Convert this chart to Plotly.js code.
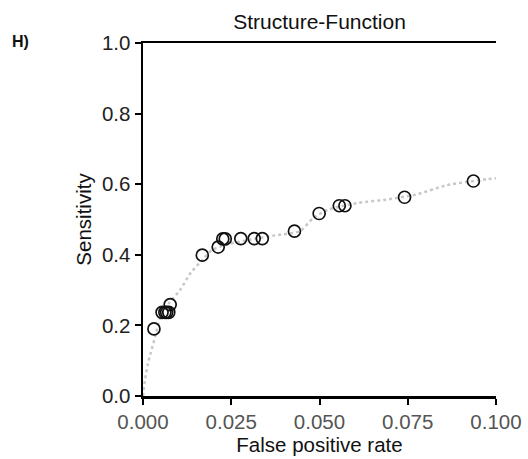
<!DOCTYPE html>
<html>
<head>
<meta charset="utf-8">
<script src="https://cdn.plot.ly/plotly-3.0.1.min.js"></script>
<style>html,body{margin:0;padding:0;background:#fff;}#chart{width:528px;height:459px;}</style>
</head>
<body>
<div id="chart"></div>
<script>
// Observed points (false positive rate, sensitivity)
const fpr = [0.0031, 0.0054, 0.0062, 0.0067, 0.0073, 0.0077, 0.0168, 0.0213, 0.0226, 0.0233, 0.0277, 0.0315, 0.0338, 0.0429, 0.0499, 0.0556, 0.0572, 0.0741, 0.0936];
const sens = [0.190, 0.237, 0.237, 0.237, 0.237, 0.259, 0.399, 0.422, 0.445, 0.445, 0.446, 0.446, 0.446, 0.467, 0.517, 0.539, 0.539, 0.563, 0.609];
// Fitted (dotted) curve
const fitX = [0, 0.0005, 0.0013, 0.0022, 0.0035, 0.0048, 0.0075, 0.0105, 0.0136, 0.0168, 0.0195, 0.024, 0.030, 0.0374, 0.0445, 0.0483, 0.0525, 0.061, 0.0695, 0.0775, 0.086, 0.0973, 0.1];
const fitY = [0, 0.041, 0.088, 0.123, 0.170, 0.220, 0.265, 0.300, 0.350, 0.385, 0.413, 0.430, 0.442, 0.455, 0.467, 0.505, 0.528, 0.547, 0.557, 0.571, 0.597, 0.614, 0.617];
const xTicks = [0, 0.025, 0.05, 0.075, 0.1];
const xTickText = ['0.000', '0.025', '0.050', '0.075', '0.100'];
const yTicks = [0, 0.2, 0.4, 0.6, 0.8, 1.0];
const yTickText = ['0.0', '0.2', '0.4', '0.6', '0.8', '1.0'];

const traces = [
  {x: fitX, y: fitY, mode: 'lines', line: {color: '#c8c8c8', width: 2.5, dash: 'dot', shape: 'spline', smoothing: 0.6}, hoverinfo: 'skip', showlegend: false, cliponaxis: false},
  {x: fpr, y: sens, mode: 'markers', marker: {symbol: 'circle-open', size: 12, color: '#111', line: {width: 1.7, color: '#111'}}, showlegend: false, cliponaxis: false}
];
const font = 'Liberation Sans, Arial, sans-serif';
const layout = {
  width: 528, height: 459,
  margin: {l: 143, r: 32, t: 43, b: 63},
  paper_bgcolor: '#fff', plot_bgcolor: '#fff',
  font: {family: font, color: '#111'},
  title: {text: 'Structure-Function', x: 0.5, xref: 'paper', xanchor: 'center', y: 18, yref: 'container', yanchor: 'middle', font: {family: font, size: 21, color: '#111'}},
  xaxis: {range: [0, 0.1], tickvals: xTicks, ticktext: xTickText, showgrid: false, zeroline: false,
    showline: true, linecolor: '#000', linewidth: 2.5, mirror: true, ticks: 'outside', ticklen: 6, tickwidth: 2, tickcolor: '#000',
    tickfont: {family: font, size: 20.5, color: '#555'},
    title: {text: 'False positive rate', standoff: 0, font: {family: font, size: 20.5, color: '#111'}}},
  yaxis: {range: [0, 1], tickvals: yTicks, ticktext: yTickText, showgrid: false, zeroline: false,
    showline: true, linecolor: '#000', linewidth: 2.5, ticks: 'outside', ticklen: 6, tickwidth: 2, tickcolor: '#000',
    tickfont: {family: font, size: 20.5, color: '#222'},
    title: {text: 'Sensitivity', standoff: 5, font: {family: font, size: 20.5, color: '#111'}}},
  annotations: [{text: '<b>H)</b>', xref: 'paper', yref: 'paper', x: -0.348, y: 1.0, xanchor: 'center', yanchor: 'middle', yshift: 2, showarrow: false, font: {family: font, size: 16, color: '#111'}}]
};
Plotly.newPlot('chart', traces, layout, {displayModeBar: false, staticPlot: true});
</script>
</body>
</html>
